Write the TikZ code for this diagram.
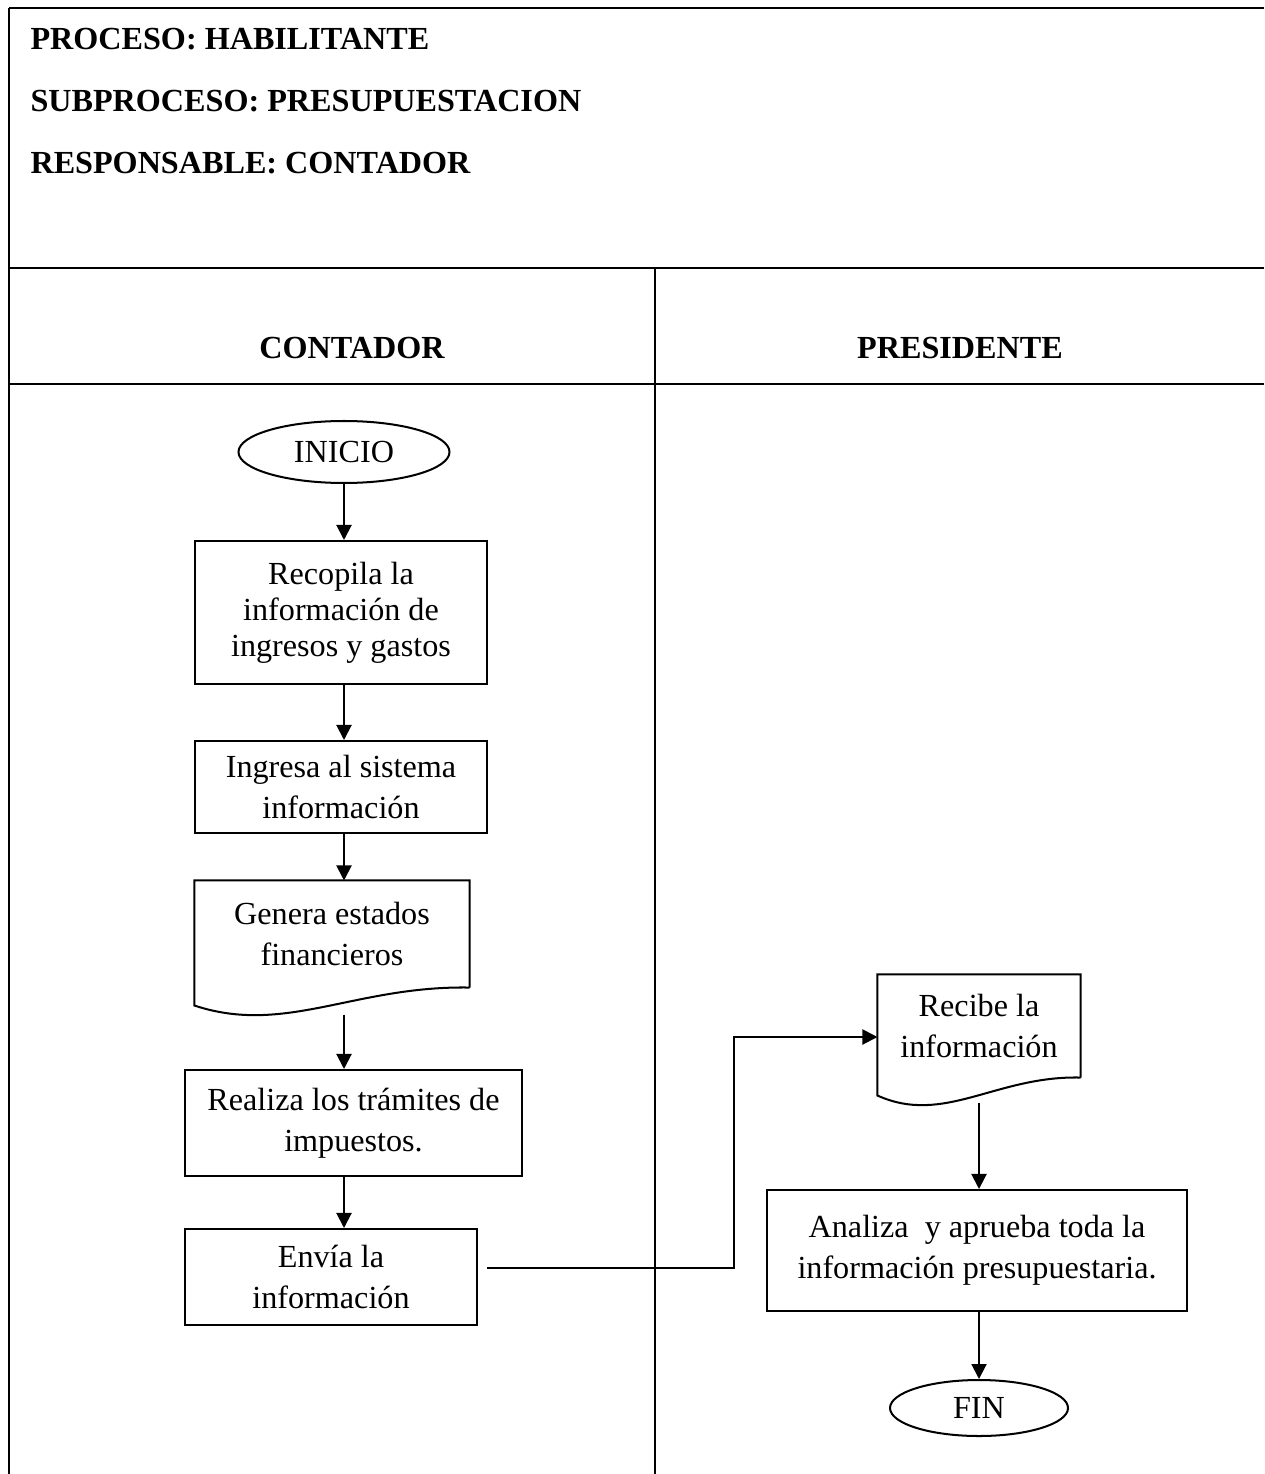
\documentclass[tikz,border=0pt]{standalone}
\usepackage{fontspec}
\setmainfont{Liberation Serif}
\usetikzlibrary{shapes.geometric, arrows.meta, calc}

\begin{document}
\begin{tikzpicture}[x=0.3731pt, y=-0.3731pt]
	\def\px{0.3731pt}
	\def\txt{\fontsize{12}{15.3}\selectfont}
	\tikzstyle{lane} = [line width=0.75pt]
	\tikzstyle{title_i} = [anchor=west, inner sep=0pt, font=\txt\bfseries]
	\tikzstyle{head_i} = [inner sep=0pt, font=\txt\bfseries]
	\tikzstyle{term_i} = [ellipse, draw, line width=0.75pt, inner sep=0pt, font=\txt]
	\tikzstyle{task_i} = [rectangle, draw, line width=0.75pt, inner sep=2pt, align=center, font=\txt]
	\tikzstyle{doc_i} = [rectangle, inner sep=2pt, align=center, font=\txt]
	\tikzstyle{edge} = [line width=0.75pt, -{Triangle[length=5.6pt, width=5.6pt]}]
	% document symbol: open bottom closed by a wave
	\newcommand{\docshape}[2]{%
		\draw[line width=0.75pt] (#1.south east) -- (#1.north east) -- (#1.north west)
			-- ([yshift=-18*\px]#1.south west)
			.. controls +(0.33*#2,30) and +(-0.42*#2,-2) .. (#1.south east);}

	\useasboundingbox (0,0) rectangle (1264,1474);

	%frame and lanes
	\draw[lane] (9,1474) -- (9,8);
	\foreach \y in {8, 268, 384}
		\draw[lane] (9,\y) -- (1264,\y);
	\draw[lane] (655,268) -- (655,1474);

	\foreach \name/\y/\text in {proc/39/PROCESO: HABILITANTE, subp/101/SUBPROCESO: PRESUPUESTACION, resp/163/RESPONSABLE: CONTADOR}
		\node[title_i] (\name) at (30,\y) {\text};

	\node[head_i] (contador) at (352,348) {CONTADOR};
	\node[head_i] (presidente) at (960,348) {PRESIDENTE};

	%contador
	\node[term_i, minimum width=211*\px, minimum height=62*\px] (inicio) at (344,452) {INICIO};
	\node[task_i, minimum width=292*\px, minimum height=143*\px, font=\fontsize{12}{13.5}\selectfont] (rec) at (341,612.5) {Recopila la\\información de\\ingresos y gastos};
	\node[task_i, minimum width=292*\px, minimum height=92*\px] (ing) at (341,787) {Ingresa al sistema\\información};
	\node[doc_i, minimum width=274*\px, minimum height=106*\px] (gen) at (332,934) {Genera estados\\financieros};
	\docshape{gen}{274}
	\node[task_i, minimum width=337*\px, minimum height=106*\px] (tram) at (353.5,1123) {Realiza los trámites de\\impuestos.};
	\node[task_i, minimum width=292*\px, minimum height=96*\px] (env) at (331,1277) {Envía la\\información};

	%presidente
	\node[doc_i, minimum width=202*\px, minimum height=102*\px] (rcb) at (979,1026) {Recibe la\\información};
	\docshape{rcb}{202}
	\node[task_i, minimum width=420*\px, minimum height=121*\px] (ana) at (977,1250.5) {Analiza \ y aprueba toda la\\información presupuestaria.};
	\node[term_i, minimum width=178*\px, minimum height=56*\px] (fin) at (979,1408) {FIN};

	\draw[edge] (inicio) -- (inicio |- rec.north);
	\draw[edge] (rec.south -| inicio) -- (inicio |- ing.north);
	\draw[edge] (ing.south -| inicio) -- (inicio |- gen.north);
	\draw[edge] ($(gen.south -| inicio)+(0,27)$) -- (inicio |- tram.north);
	\draw[edge] (tram.south -| inicio) -- (inicio |- env.north);
	\draw[edge] ([xshift=9*\px, yshift=9*\px]env.east) -- ++(247,0) |- ([yshift=-11*\px]rcb.west);
	\draw[edge] ($(rcb.south)+(0,25)$) -- (rcb.south |- ana.north);
	\draw[edge] (ana.south -| rcb.south) -- (rcb.south |- fin.north);
\end{tikzpicture}
\end{document}
